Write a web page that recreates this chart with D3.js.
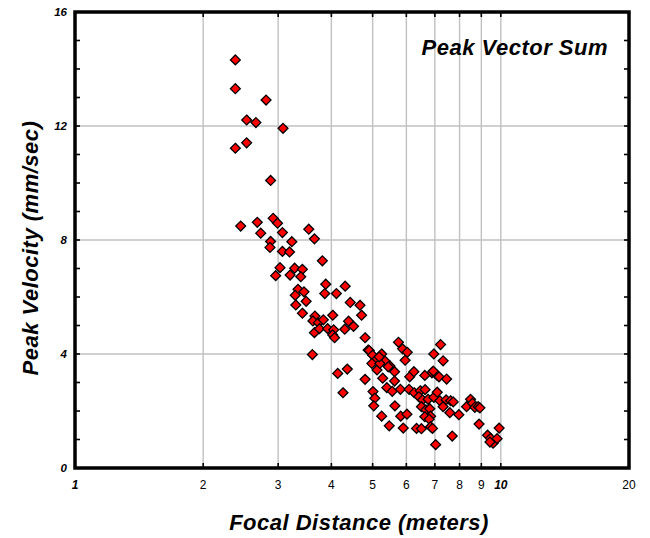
<!DOCTYPE html>
<html>
<head>
<meta charset="utf-8">
<script src="https://cdn.jsdelivr.net/npm/d3@7"></script>
<style>
  html, body { margin: 0; padding: 0; background: #fff; }
  svg { display: block; font-family: "Liberation Sans", Arial, sans-serif; }
</style>
</head>
<body>
<svg id="chart" width="650" height="538"></svg>
<script>
// Peak vector sum vs focal distance (log x)

const distance = [
  2.38, 2.38, 2.81, 2.53, 2.66, 3.08, 2.38, 2.53, 2.88, 2.45,
  2.68, 2.92, 2.99, 2.73, 3.07, 3.54, 3.65, 2.88, 2.87, 3.23,
  3.07, 3.19, 3.81, 3.03, 2.96, 3.28, 3.42, 3.20, 3.39, 3.88,
  4.31, 3.34, 3.45, 3.29, 3.86, 4.11, 3.49, 3.30, 3.42, 4.43,
  4.67, 4.71, 3.66, 4.03, 4.39, 4.51, 3.62, 3.73, 3.83, 3.65,
  3.75, 3.92, 4.05, 4.30, 4.03, 4.07, 4.80, 3.61, 4.14, 4.36,
  4.80, 4.26, 4.88, 5.75, 5.88, 6.03, 5.96, 6.96, 4.91, 5.00,
  5.25, 5.09, 5.35, 4.98, 5.12, 5.20, 5.49, 5.63, 5.28, 5.63,
  6.11, 6.25, 6.89, 6.63, 7.09, 5.40, 5.56, 5.81, 6.09, 6.26,
  6.47, 6.64, 5.01, 5.06, 5.03, 6.42, 6.55, 6.75, 6.96, 5.64,
  6.51, 6.67, 6.81, 6.84, 5.25, 5.82, 6.02, 6.63, 6.79, 5.47,
  5.90, 6.34, 6.51, 6.84, 6.91, 7.03, 7.22, 7.32, 6.94, 7.16,
  7.46, 7.09, 7.19, 7.44, 7.62, 7.73, 7.32, 7.59, 7.97, 8.31,
  8.49, 8.58, 8.69, 8.85, 8.93, 8.89, 7.69, 9.31, 9.91, 9.46,
  9.59, 9.80, 9.43, 5.44, 5.18
];

const velocity = [
  14.32, 13.31, 12.91, 12.21, 12.12, 11.92, 11.22, 11.41, 10.09, 8.49,
  8.62, 8.76, 8.59, 8.24, 8.26, 8.38, 8.04, 7.95, 7.74, 7.94,
  7.60, 7.58, 7.27, 7.03, 6.75, 7.01, 6.97, 6.77, 6.71, 6.45,
  6.38, 6.27, 6.18, 6.06, 6.12, 6.12, 5.85, 5.72, 5.43, 5.81,
  5.71, 5.36, 5.33, 5.36, 5.15, 4.97, 5.16, 5.10, 5.20, 4.75,
  4.89, 4.89, 4.85, 4.87, 4.67, 4.57, 4.57, 3.98, 3.32, 3.47,
  3.11, 2.64, 4.14, 4.41, 4.18, 4.06, 3.78, 4.00, 4.12, 3.96,
  4.00, 3.79, 3.75, 3.67, 3.44, 3.67, 3.58, 3.38, 3.15, 3.05,
  3.20, 3.38, 3.34, 3.25, 3.25, 2.82, 2.69, 2.76, 2.76, 2.64,
  2.71, 2.75, 2.68, 2.45, 2.18, 2.50, 2.39, 2.41, 2.48, 2.18,
  2.15, 2.04, 2.08, 1.82, 1.82, 1.82, 1.89, 1.80, 1.71, 1.48,
  1.40, 1.39, 1.38, 1.45, 1.39, 0.82, 4.33, 3.76, 3.40, 3.20,
  3.12, 2.66, 2.36, 2.39, 2.36, 2.32, 2.15, 1.94, 1.87, 2.15,
  2.41, 2.27, 2.13, 2.15, 2.11, 1.54, 1.12, 1.15, 1.40, 1.04,
  0.87, 1.03, 0.91, 3.55, 3.90
];

const xTicks = [1, 2, 3, 4, 5, 6, 7, 8, 9, 10, 20];
const xGrid  = [2, 3, 4, 5, 6, 7, 8, 9, 10];
const xBoldTicks = [1, 10];
const yTicks = [0, 4, 8, 12, 16];
const yMinor = d3.range(0, 17, 1);

const titleText = "Peak Vector Sum";
const xTitle = "Focal Distance (meters)";
const yTitle = "Peak Velocity (mm/sec)";

// ---------------------------------------------------------
// SCALES
// ---------------------------------------------------------
const svg = d3.select("#chart");
const plotL = 75, plotR = 629, plotT = 12, plotB = 468;

const x = d3.scaleLog().domain([1, 20]).range([plotL, plotR]);
const y = d3.scaleLinear().domain([0, 16]).range([plotB, plotT]);

// ---------------------------------------------------------
// GRID
// ---------------------------------------------------------
const grid = svg.append("g").attr("stroke", "#c0c0c0").attr("stroke-width", 1.4);

grid.selectAll("line.vx").data(xGrid).enter().append("line")
  .attr("x1", d => x(d)).attr("x2", d => x(d))
  .attr("y1", plotT).attr("y2", plotB);

grid.selectAll("line.hy").data(yTicks.slice(1, -1)).enter().append("line")
  .attr("x1", plotL).attr("x2", plotR)
  .attr("y1", d => y(d)).attr("y2", d => y(d));

// ---------------------------------------------------------
// TICKS (inside, all four sides)
// ---------------------------------------------------------
const ticks = svg.append("g").attr("stroke", "#000").attr("stroke-width", 1.6);

ticks.selectAll("line.yl").data(yMinor).enter().append("line")
  .attr("x1", plotL).attr("x2", plotL + 5)
  .attr("y1", d => y(d)).attr("y2", d => y(d));

ticks.selectAll("line.yr").data(yMinor).enter().append("line")
  .attr("x1", plotR - 5).attr("x2", plotR)
  .attr("y1", d => y(d)).attr("y2", d => y(d));

ticks.selectAll("line.xb").data(xGrid).enter().append("line")
  .attr("x1", d => x(d)).attr("x2", d => x(d))
  .attr("y1", plotB).attr("y2", plotB - 5);

ticks.selectAll("line.xt").data(xGrid).enter().append("line")
  .attr("x1", d => x(d)).attr("x2", d => x(d))
  .attr("y1", plotT).attr("y2", plotT + 5);

// ---------------------------------------------------------
// POINTS
// ---------------------------------------------------------
const pts = distance.map((d, i) => ({ d, v: velocity[i] }));
const diamond = d3.symbol().type(d3.symbolDiamond2).size(62);

svg.append("g").selectAll("path")
  .data(pts).enter().append("path")
  .attr("d", diamond)
  .attr("transform", p => `translate(${x(p.d)},${y(p.v)})`)
  .attr("fill", "#ff0000")
  .attr("stroke", "#000")
  .attr("stroke-width", 1.3);

// ---------------------------------------------------------
// FRAME
// ---------------------------------------------------------
svg.append("rect")
  .attr("x", plotL).attr("y", plotT)
  .attr("width", plotR - plotL).attr("height", plotB - plotT)
  .attr("fill", "none").attr("stroke", "#000").attr("stroke-width", 3.5);

// ---------------------------------------------------------
// LABELS
// ---------------------------------------------------------
svg.append("g").selectAll("text").data(yTicks).enter().append("text")
  .attr("x", plotL - 8).attr("y", d => y(d))
  .attr("text-anchor", "end").attr("dy", "0.35em")
  .style("font-size", "11.5px").style("font-weight", "bold").style("font-style", "italic")
  .text(d => d);

svg.append("g").selectAll("text").data(xTicks).enter().append("text")
  .attr("x", d => x(d)).attr("y", plotB + 21)
  .attr("text-anchor", "middle")
  .style("font-size", "12px")
  .style("font-weight", d => xBoldTicks.includes(d) ? "bold" : "normal")
  .style("font-style", d => xBoldTicks.includes(d) ? "italic" : "normal")
  .text(d => d);

svg.append("text")
  .attr("x", 608).attr("y", 55)
  .attr("text-anchor", "end")
  .style("font-size", "22px").style("font-weight", "bold").style("font-style", "italic")
  .style("letter-spacing", "0.5px")
  .text(titleText);

svg.append("text")
  .attr("x", 359).attr("y", 530)
  .attr("text-anchor", "middle")
  .style("font-size", "22px").style("font-weight", "bold").style("font-style", "italic")
  .style("letter-spacing", "0.5px")
  .text(xTitle);

svg.append("text")
  .attr("transform", "translate(38,248) rotate(-90)")
  .attr("text-anchor", "middle")
  .style("font-size", "22px").style("font-weight", "bold").style("font-style", "italic")
  .style("letter-spacing", "0.5px")
  .text(yTitle);
</script>
</body>
</html>
